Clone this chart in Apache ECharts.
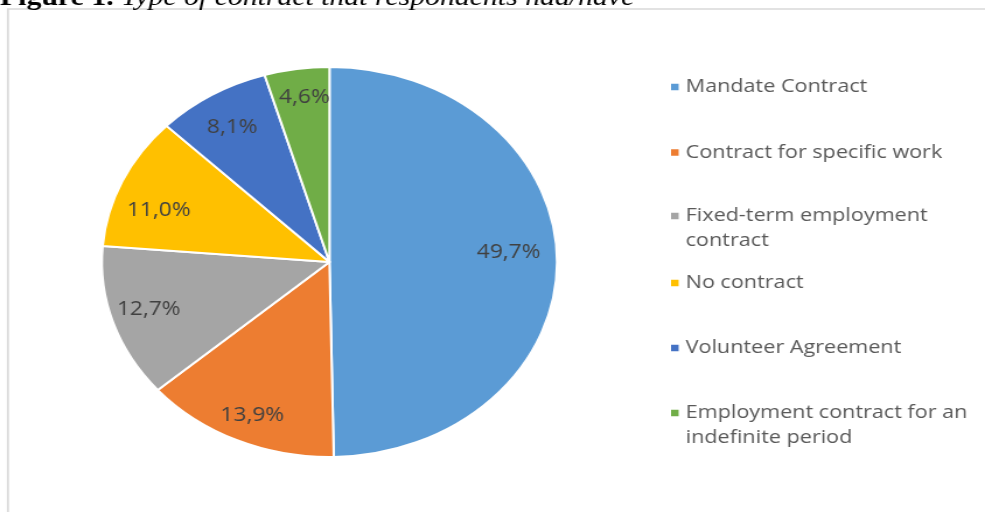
<!DOCTYPE html>
<html>
<head>
<meta charset="utf-8">
<script src="https://cdn.jsdelivr.net/npm/echarts@6/dist/echarts.min.js"></script>
<style>
  html, body { margin: 0; padding: 0; background: #fff; overflow: hidden; }
  #wrap { width: 985px; height: 512px; overflow: hidden; position: relative; }
  /* the chart is drawn on a narrower canvas and widened, giving the oval pie */
  #chart { width: 844px; height: 512px; transform: scaleX(1.16706); transform-origin: 0 0; }
</style>
</head>
<body>
<div id="wrap"><div id="chart"></div></div>
<script>
// Contract types and their shares (%)
const categories = [
  'Mandate Contract',
  'Contract for specific work',
  'Fixed-term employment contract',
  'No contract',
  'Volunteer Agreement',
  'Employment contract for an indefinite period'
];
const shares = [49.7, 13.9, 12.7, 11.0, 8.1, 4.6];
// legend text, wrapped the way it is printed
const legendLines = [
  'Mandate Contract',
  'Contract for specific work',
  'Fixed-term employment\ncontract',
  'No contract',
  'Volunteer Agreement',
  'Employment contract for an\nindefinite period'
];
const captionBold = 'Figure 1. ';
const captionItalic = 'Type of contract that respondents had/have';

// styling
const colors = ['#5B9BD5', '#ED7D31', '#A5A5A5', '#FFC000', '#4472C4', '#70AD47'];
const legendCenters = [87, 152.5, 216, 283, 348, 413];
const labelNudge = [[-9.5, -8], [0, 4], [0, -3], [2, 16], [1, 5], [2, -3]];
const LINE_H = 25;

const pieData = categories.map((name, i) => ({ name: name, value: shares[i] }));
const labelData = categories.map((name, i) => ({
  name: name,
  value: shares[i],
  label: { offset: labelNudge[i] }
}));
const fmtPct = v => v.toFixed(1).replace('.', ',') + '%';

const legends = categories.map((name, i) => {
  const twoLines = legendLines[i].indexOf('\n') >= 0;
  // a blank leading line keeps the icon beside the first printed line
  const text = twoLines ? '\n' + legendLines[i] : legendLines[i];
  return {
    orient: 'vertical',
    left: 573,
    top: twoLines ? legendCenters[i] - LINE_H * 1.5 : legendCenters[i] - LINE_H / 2,
    padding: 0,
    data: [name],
    icon: 'rect',
    itemWidth: 8.5,
    itemHeight: 8.5,
    selectedMode: false,
    formatter: () => text,
    textStyle: {
      fontFamily: 'Open Sans',
      fontSize: 18.5,
      color: '#595959',
      lineHeight: LINE_H
    }
  };
});

const chart = echarts.init(document.getElementById('chart'), null, { renderer: 'canvas' });
chart.setOption({
  animation: false,
  backgroundColor: '#fff',
  color: colors,
  legend: legends,
  graphic: [
    {
      type: 'rect',
      silent: true,
      shape: { x: 6.8, y: 9, width: 900, height: 600 },
      style: { fill: 'none', stroke: '#D9D9D9', lineWidth: 1.7 }
    },
    {
      type: 'text',
      silent: true,
      x: 0,
      y: -1.5,
      style: {
        text: '{b|' + captionBold + '}{i|' + captionItalic + '}',
        verticalAlign: 'middle',
        rich: {
          b: { fontFamily: 'Liberation Serif', fontWeight: 'bold', fontSize: 25.5, fill: '#000' },
          i: { fontFamily: 'Liberation Serif', fontStyle: 'italic', fontSize: 25.5, fill: '#000' }
        }
      }
    }
  ],
  series: [
    {
      type: 'pie',
      center: [282.3, 262],
      radius: 195,
      startAngle: 90,
      clockwise: true,
      data: pieData,
      label: { show: false },
      labelLine: { show: false },
      itemStyle: { borderColor: '#fff', borderWidth: 2 },
      emphasis: { disabled: true }
    },
    {
      // label ring: places the percentages at about 4/5 of the radius
      type: 'pie',
      center: [282.3, 262],
      radius: [125, 195],
      startAngle: 90,
      clockwise: true,
      silent: true,
      data: labelData,
      itemStyle: { color: 'transparent', borderWidth: 0 },
      label: {
        show: true,
        position: 'inside',
        formatter: p => fmtPct(p.value),
        fontFamily: 'Open Sans',
        fontSize: 19.5,
        color: '#404040'
      },
      labelLine: { show: false },
      emphasis: { disabled: true }
    }
  ]
});
</script>
</body>
</html>
